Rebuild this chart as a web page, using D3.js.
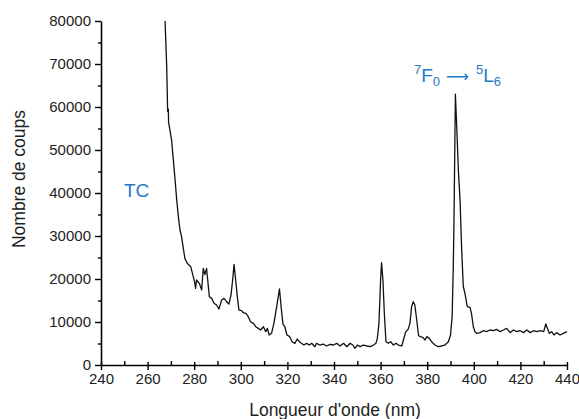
<!DOCTYPE html>
<html>
<head>
<meta charset="utf-8">
<style>
    body { margin: 0; background: #fff; }
    svg { font-family: 'Liberation Sans', Arial, sans-serif; }
    .axis text { fill: #222; font-size: 15px; }
    .axis .domain { stroke: #000; stroke-width: 1.6; }
    .axis .tick line { stroke: #000; stroke-width: 1.4; }
    .title { font-size: 17.5px; fill: #222; }
    .note { fill: #1f7bc4; }
</style>
</head>
<body>
<svg width="579" height="419"></svg>
<script src="https://d3js.org/d3.v7.min.js"></script>
<script>
// wavelength (nm) and counts
let wavelength = [267.5, 268.2, 268.6, 268.9, 269.0, 270.3, 271.8, 272.5, 273.2, 273.9, 274.6, 275.0, 276.0, 277.0, 278.5, 279.6, 280.2, 280.6, 281.0, 282.2, 283.2, 283.9, 284.6, 285.3, 286.5, 287.5, 288.5, 289.6, 290.6, 291.8, 292.8, 293.9, 294.9, 295.8, 296.5, 297.1, 297.8, 298.5, 299.2, 300.3, 301.0, 302.2, 303.2, 304.2, 305.4, 306.4, 307.5, 308.5, 309.7, 310.7, 311.4, 312.2, 313.2, 314.2, 315.4, 316.6, 317.3, 318.1, 318.9, 319.8, 321.0, 322.0, 323.2, 324.2, 325.1, 326.0, 327.1, 328.2, 329.4, 330.4, 331.8, 332.5, 333.9, 335.4, 336.8, 338.3, 339.7, 341.2, 342.6, 344.1, 345.5, 346.9, 348.1, 349.0, 350.0, 351.2, 352.6, 354.1, 355.5, 357.0, 358.0, 358.6, 359.3, 360.0, 360.4, 361.0, 361.6, 362.3, 363.3, 364.3, 365.5, 366.6, 367.6, 369.1, 369.8, 370.8, 371.8, 372.6, 373.3, 374.0, 374.7, 375.5, 376.3, 377.1, 378.1, 379.1, 379.8, 380.9, 381.9, 383.3, 384.8, 386.2, 387.6, 389.1, 390.0, 390.7, 391.2, 391.5, 392.1, 392.7, 393.4, 394.1, 394.8, 395.5, 396.2, 397.2, 398.4, 399.0, 399.8, 400.5, 401.2, 402.7, 404.1, 405.5, 406.9, 408.4, 409.8, 411.3, 412.7, 414.1, 415.6, 417.0, 418.4, 419.9, 421.3, 422.8, 424.2, 425.6, 427.1, 428.5, 430.0, 430.9, 431.6, 432.4, 433.4, 434.4, 435.6, 437.0, 438.4, 440.0];
let counts = [80000, 69400, 59000, 59500, 56500, 52300, 43000, 38400, 34500, 31400, 29800, 28300, 24800, 23650, 22860, 20540, 19200, 17840, 19770, 19000, 17440, 22490, 21000, 22490, 15890, 15500, 14350, 13950, 13020, 15120, 15500, 14720, 14190, 16280, 19770, 23400, 19770, 15890, 12800, 12640, 12200, 12000, 11240, 10070, 9690, 8900, 8520, 8140, 8900, 7750, 8520, 6980, 7370, 9690, 13560, 17700, 13560, 9500, 8900, 6980, 6590, 5420, 5040, 6050, 5430, 5040, 4650, 5040, 4650, 5040, 4260, 5040, 4650, 4880, 4420, 4800, 4650, 5040, 4420, 5040, 4260, 5040, 4650, 3880, 4650, 4260, 4650, 4420, 4260, 4650, 5040, 6200, 9690, 19770, 23800, 19770, 12020, 5420, 5040, 5420, 4650, 5040, 4650, 4420, 5810, 7750, 8280, 9690, 13560, 14720, 13950, 10470, 6800, 6590, 6430, 5810, 6590, 6200, 5420, 4650, 4260, 4420, 4650, 5420, 6980, 11240, 22870, 33700, 63000, 55000, 45000, 38400, 26750, 18200, 16680, 13560, 13400, 12020, 8900, 7750, 7370, 7530, 7980, 7750, 8140, 7980, 8280, 7750, 8140, 8520, 7530, 8140, 7750, 7980, 7530, 8140, 7530, 7980, 7750, 7980, 7750, 9540, 8520, 7370, 7750, 6980, 7530, 6980, 7370, 7750];

let xTicks = [240, 260, 280, 300, 320, 340, 360, 380, 400, 420, 440];
let yTicks = [0, 10000, 20000, 30000, 40000, 50000, 60000, 70000, 80000];

let svg = d3.select("svg");
let margin = { top: 21, right: 12, bottom: 54, left: 101 };
let width = 579, height = 419;

let x = d3.scaleLinear().domain([240, 440]).range([margin.left, width - margin.right]);
let y = d3.scaleLinear().domain([0, 80000]).range([height - margin.bottom, margin.top]);

// minor ticks first so the major ones sit on top
svg.append("g")
    .attr("class", "axis")
    .attr("transform", `translate(0,${height - margin.bottom})`)
    .call(d3.axisBottom(x).tickValues(d3.range(250, 440, 20)).tickSize(-4).tickFormat(""))
    .call(g => g.select(".domain").remove());

svg.append("g")
    .attr("class", "axis")
    .attr("transform", `translate(${margin.left},0)`)
    .call(d3.axisLeft(y).tickValues(d3.range(5000, 80000, 10000)).tickSize(3).tickFormat(""))
    .call(g => g.select(".domain").remove());

let xAxis = svg.append("g")
    .attr("class", "axis")
    .attr("transform", `translate(0,${height - margin.bottom})`)
    .call(d3.axisBottom(x).tickValues(xTicks).tickSize(5).tickSizeOuter(0).tickPadding(3));
xAxis.selectAll(".tick line").attr("y1", -3);

svg.append("g")
    .attr("class", "axis")
    .attr("transform", `translate(${margin.left},0)`)
    .call(d3.axisLeft(y).tickValues(yTicks).tickFormat(d3.format("d")).tickSize(6).tickSizeOuter(0).tickPadding(4));

let data = wavelength.map((w, i) => ({ w: w, c: counts[i] }));

svg.append("path")
    .datum(data)
    .attr("fill", "none")
    .attr("stroke", "#111")
    .attr("stroke-width", 1.3)
    .attr("stroke-linejoin", "round")
    .attr("d", d3.line().x(d => x(d.w)).y(d => y(d.c)));

svg.append("text")
    .attr("class", "title")
    .attr("x", 335)
    .attr("y", 416)
    .attr("text-anchor", "middle")
    .text("Longueur d'onde (nm)");

svg.append("text")
    .attr("class", "title")
    .attr("transform", "translate(25,179) rotate(-90)")
    .attr("text-anchor", "middle")
    .text("Nombre de coups");

svg.append("text")
    .attr("class", "note")
    .attr("x", 124)
    .attr("y", 197)
    .attr("font-size", "19px")
    .text("TC");

let ann = svg.append("text")
    .attr("class", "note")
    .attr("x", 414)
    .attr("y", 82)
    .attr("font-size", "19px");
ann.append("tspan").attr("font-size", "13px").attr("dy", -8).text("7");
ann.append("tspan").attr("dy", 8).text("F");
ann.append("tspan").attr("font-size", "13px").attr("dy", 4).text("0");
ann.append("tspan").attr("dy", -4).attr("dx", 6).attr("font-family", "DejaVu Sans").attr("font-size", "16px").text("\u27F6");
ann.append("tspan").attr("font-size", "13px").attr("dy", -8).attr("dx", 7).text("5");
ann.append("tspan").attr("dy", 8).text("L");
ann.append("tspan").attr("font-size", "13px").attr("dy", 4).text("6");
</script>
</body>
</html>
